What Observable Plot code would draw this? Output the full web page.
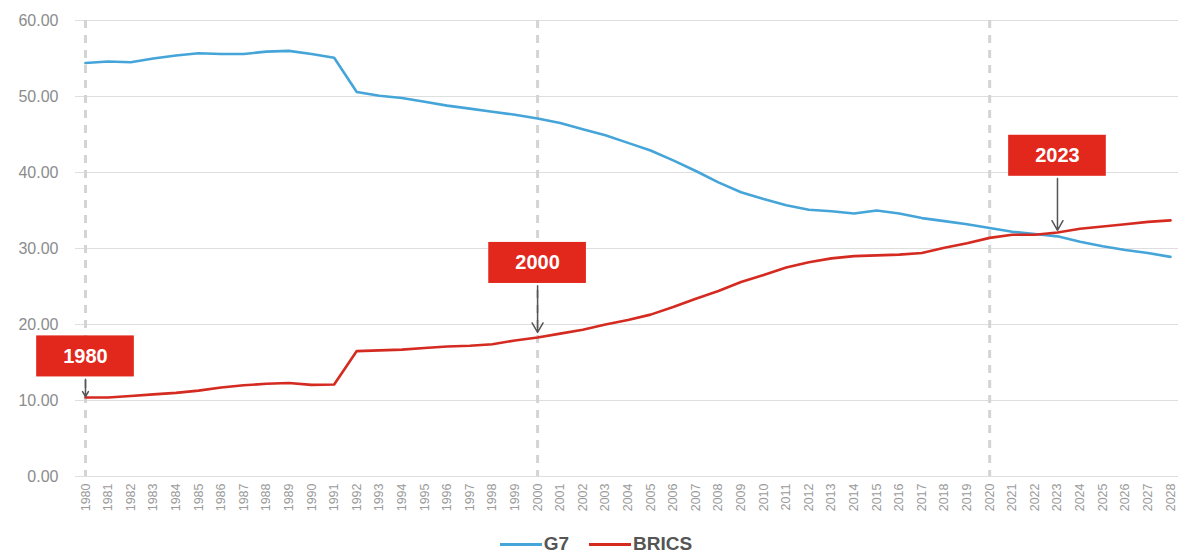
<!DOCTYPE html>
<html>
<head>
<meta charset="utf-8">
<script src="https://cdn.jsdelivr.net/npm/d3@7"></script>
<script src="https://cdn.jsdelivr.net/npm/@observablehq/plot@0.6"></script>
<style>
  html, body { margin: 0; padding: 0; background: #fff; }
  #chart { width: 1178px; }
  .legend { display: flex; justify-content: center; align-items: center; height: 24px; font-family: "Liberation Sans", Arial, sans-serif; font-size: 19px; font-weight: bold; color: #555; gap: 20px; padding-left: 14px; }
  .legend span.item { display: flex; align-items: center; }
  .legend span.sw { display: inline-block; width: 42px; height: 3px; margin-right: 2px; }
</style>
</head>
<body>
<div id="chart"></div>
<script>
const years = [1980,1981,1982,1983,1984,1985,1986,1987,1988,1989,
  1990,1991,1992,1993,1994,1995,1996,1997,1998,1999,
  2000,2001,2002,2003,2004,2005,2006,2007,2008,2009,
  2010,2011,2012,2013,2014,2015,2016,2017,2018,2019,
  2020,2021,2022,2023,2024,2025,2026,2027,2028];

const g7 = [54.4,54.6,54.5,55.0,55.4,55.7,55.6,55.6,55.9,56.0,
  55.6,55.1,50.6,50.1,49.8,49.3,48.8,48.4,48.0,47.6,
  47.1,46.5,45.7,44.9,43.9,42.9,41.6,40.2,38.7,37.4,
  36.5,35.7,35.1,34.9,34.6,35.0,34.6,34.0,33.6,33.2,
  32.7,32.2,31.9,31.6,30.9,30.3,29.8,29.4,28.9];

const brics = [10.4,10.4,10.6,10.8,11.0,11.3,11.7,12.0,12.2,12.3,
  12.05,12.1,16.5,16.6,16.7,16.9,17.1,17.2,17.4,17.9,
  18.3,18.8,19.3,20.0,20.6,21.3,22.3,23.4,24.4,25.6,
  26.5,27.5,28.2,28.7,29.0,29.1,29.2,29.4,30.1,30.7,
  31.4,31.8,31.8,32.1,32.6,32.9,33.2,33.5,33.7];

const yTicks = [0, 10, 20, 30, 40, 50, 60];
const markerYears = [1980, 2000, 2020];

const annYears = [1980, 2000, 2023];
const annLabels = ["1980", "2000", "2023"];
const annLabelY = [15.8, 28.1, 42.2];
const annTipY = [10.5, 18.95, 32.4];

const seriesNames = ["G7", "BRICS"];
const seriesColors = ["#45a5d9", "#d42a20"];

const data = [];
years.forEach((yr, i) => {
  data.push({year: yr, value: g7[i], series: "G7"});
  data.push({year: yr, value: brics[i], series: "BRICS"});
});
const annotations = annYears.map((yr, i) => ({year: yr, label: annLabels[i], labelY: annLabelY[i], tipY: annTipY[i]}));

const boxHalfW = 2.16, boxHalfH = 2.7;

const chart = Plot.plot({
  width: 1178,
  height: 532,
  marginLeft: 85,
  marginRight: 8,
  marginTop: 20,
  marginBottom: 56,
  style: {fontFamily: "'Liberation Sans', Arial, sans-serif", background: "#fff"},
  x: {domain: [1980, 2028]},
  y: {domain: [0, 60]},
  color: {domain: seriesNames, range: seriesColors},
  marks: [
    Plot.ruleY(yTicks, {stroke: "#dedede", strokeWidth: 1.2, insetRight: -8}),
    Plot.axisY({ticks: yTicks, tickFormat: d => d.toFixed(2), tickSize: 10, stroke: "#dedede", tickPadding: 17, fontSize: 16, fill: "#8c8c8c", label: null}),
    Plot.axisX({ticks: years, tickFormat: d => String(d), tickRotate: -90, tickSize: 0, tickPadding: 7, fontSize: 12.5, fill: "#9a9a9a", label: null}),
    Plot.ruleX(markerYears, {stroke: "#d4d4d4", strokeWidth: 3, strokeDasharray: "8,7"}),
    Plot.line(data, {x: "year", y: "value", z: "series", stroke: "series", strokeWidth: 2.6}),
    Plot.rect(annotations, {x1: d => d.year - boxHalfW, x2: d => d.year + boxHalfW, y1: d => d.labelY - boxHalfH, y2: d => d.labelY + boxHalfH, fill: "#e2271d"}),
    Plot.text(annotations, {x: "year", y: "labelY", text: "label", fill: "white", fontSize: 20, fontWeight: "bold"}),
    Plot.arrow(annotations, {x: "year", y1: d => d.labelY - boxHalfH - 0.3, y2: "tipY", stroke: "#555", strokeWidth: 1.5, headLength: 11, bend: 0})
  ]
});
document.getElementById("chart").appendChild(chart);

const legend = document.createElement("div");
legend.className = "legend";
seriesNames.forEach((name, i) => {
  const item = document.createElement("span");
  item.className = "item";
  const sw = document.createElement("span");
  sw.className = "sw";
  sw.style.background = seriesColors[i];
  item.appendChild(sw);
  item.appendChild(document.createTextNode(name));
  legend.appendChild(item);
});
document.getElementById("chart").appendChild(legend);
</script>
</body>
</html>
